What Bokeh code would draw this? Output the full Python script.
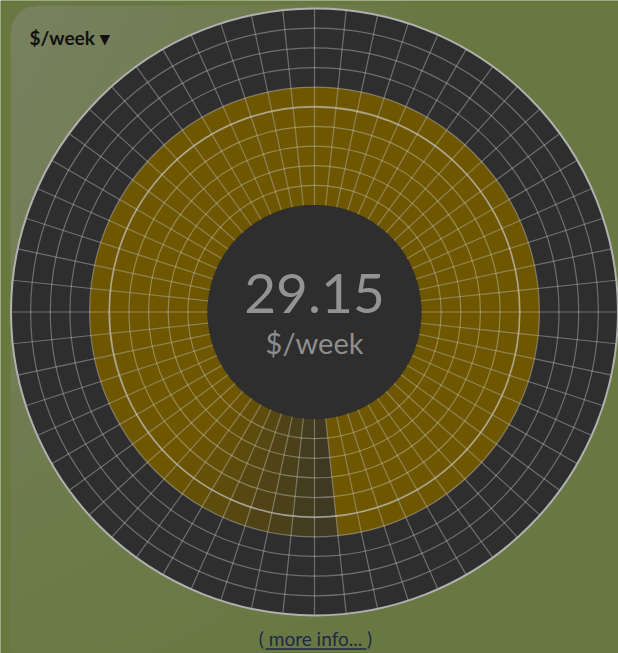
import numpy as np
from bokeh.plotting import figure
from bokeh.models import Range1d
from bokeh.core.properties import value
from bokeh.embed import file_html
from bokeh.resources import INLINE

# ---------------- data ----------------
unit_label = "$/week"
total_value = 29.15
# 60 angular segments (6 degrees each, clockwise from 12 o'clock), value in $/week
segment_values = [
    30.0, 30.0, 30.0, 30.0, 30.0, 30.0, 30.0, 30.0, 30.0, 30.0,
    30.0, 30.0, 30.0, 30.0, 30.0, 30.0, 30.0, 30.0, 30.0, 30.0,
    30.0, 30.0, 30.0, 30.0, 30.0, 30.0, 30.0, 30.0, 30.0, 30.0,
    30.0, 30.0, 30.0, 30.0, 30.0, 30.0, 30.0, 30.0, 30.0, 30.0,
    30.0, 30.0, 30.0, 30.0, 30.0, 30.0, 30.0, 30.0, 30.0, 30.0,
    30.0, 30.0, 30.0, 30.0, 30.0, 30.0, 30.0, 30.0, 30.0, 30.0,
]
# recency shading of each segment (oldest segments faded)
segment_alpha = [
    1.0, 1.0, 1.0, 1.0, 1.0, 1.0, 1.0, 1.0, 1.0, 1.0,
    1.0, 1.0, 1.0, 1.0, 1.0, 1.0, 1.0, 1.0, 1.0, 1.0,
    1.0, 1.0, 1.0, 1.0, 1.0, 1.0, 1.0, 1.0, 1.0, 0.26,
    0.34, 0.43, 0.53, 0.63, 0.74, 0.84, 0.93, 1.0, 1.0, 1.0,
    1.0, 1.0, 1.0, 1.0, 1.0, 1.0, 1.0, 1.0, 1.0, 1.0,
    1.0, 1.0, 1.0, 1.0, 1.0, 1.0, 1.0, 1.0, 1.0, 1.0,
]
ring_step_value = 5.0      # $/week per ring
ring_count = 10
target_value = 25.0        # highlighted ring
more_info_text = "( more info... )"

# ---------------- geometry / style ----------------
R_IN = 107.0
R_OUT = 303.5
step_px = (R_OUT - R_IN) / ring_count
n_seg = len(segment_values)
seg_deg = 360.0 / n_seg

def rad_of(v):
    return R_IN + (v / ring_step_value) * step_px

W, H = 618, 653
CX, CY = 314.0, 311.5  # centre in picture pixels
x0, x1 = 0 - CX, W - CX
y1, y0 = CY, CY - H

p = figure(width=W, height=H, x_range=Range1d(x0, x1), y_range=Range1d(y0, y1),
           output_backend="svg", toolbar_location=None, min_border=0)
p.axis.visible = False
p.grid.visible = False
p.outline_line_color = None
p.background_fill_color = "#687840"
p.border_fill_color = "#687840"

# background gradient (panel highlight in top-left)
yy, xx = np.mgrid[0:H, 0:W].astype(float)
X = xx
Y = yy
base = np.array([104, 120, 64], dtype=float)
panel = np.array([121, 129, 96], dtype=float)
w = np.clip(1 - (X - 10) / 430.0, 0, 1) * np.clip(1 - (Y - 5) / 760.0, 0, 1)
w = w ** 0.8
mask = (X >= 10) & (Y >= 5)
rc = 26.0
corner = (X < 10 + rc) & (Y < 5 + rc) & (((X - (10 + rc)) ** 2 + (Y - (5 + rc)) ** 2) > rc ** 2)
mask &= ~corner
w = np.where(mask, w, 0.0)
col = base[None, None, :] + w[..., None] * (panel - base)[None, None, :]
img = np.empty((H, W, 4), dtype=np.uint8)
img[..., :3] = np.clip(col, 0, 255).astype(np.uint8)
img[..., 3] = 255
img32 = np.flipud(img).copy().view(dtype=np.uint32).reshape(H, W)
p.image_rgba(image=[img32], x=x0, y=y0, dw=W, dh=H)

# dark disc
p.circle(x=0, y=0, radius=R_OUT, fill_color="#2e2e2e", line_color=None)

# value wedges
starts = [90 - seg_deg * (i + 1) for i in range(n_seg)]
ends = [90 - seg_deg * i for i in range(n_seg)]
outer = [rad_of(v) for v in segment_values]
p.annular_wedge(x=0, y=0, inner_radius=R_IN, outer_radius=outer,
                start_angle=starts, end_angle=ends, start_angle_units="deg",
                end_angle_units="deg", direction="anticlock",
                fill_color="#6f5700", fill_alpha=segment_alpha, line_color=None)

# radial grid lines
p.ray(x=0, y=0, length=R_OUT, angle=ends, angle_units="deg",
      line_color="#d8d8d8", line_alpha=0.38, line_width=1.2)

# concentric rings
ring_vals = [ring_step_value * k for k in range(1, ring_count)]
p.circle(x=0, y=0, radius=[rad_of(v) for v in ring_vals], fill_color=None,
         line_color="#d8d8d8", line_alpha=0.38, line_width=1.2)
p.circle(x=0, y=0, radius=rad_of(target_value), fill_color=None,
         line_color="#c8c8c8", line_alpha=0.5, line_width=1.8)

# outer border
p.circle(x=0, y=0, radius=R_OUT, fill_color=None, line_color="#b0b0b0", line_width=2)

# centre disc and texts (baseline offsets compensate the renderer's placement)
p.circle(x=0, y=0, radius=R_IN, fill_color="#2e2e2e", line_color=None)
p.text(x=[0], y=[CY - 293], text=[f"{total_value:.2f}"], text_font=value("Lato"),
       text_font_size="55px", text_color="#939393", text_align="center",
       text_baseline="alphabetic")
p.text(x=[0], y=[CY - 342], text=[unit_label], text_font=value("Lato"),
       text_font_size="29px", text_color="#8e8e8e", text_align="center",
       text_baseline="alphabetic")

# top-left selector label
p.text(x=[29 - CX], y=[CY - 37], text=[unit_label + " \u25BE"], text_font=value("Lato"),
       text_font_size="19px", text_font_style="bold", text_color="#111111",
       text_align="left", text_baseline="alphabetic")

# bottom link
p.text(x=[1], y=[CY - 638], text=[more_info_text], text_font=value("Lato"),
       text_font_size="19px", text_color="#1b2848", text_align="center",
       text_baseline="alphabetic")
p.segment(x0=[265 - CX], y0=[CY - 648.5], x1=[366 - CX], y1=[CY - 648.5],
          line_color="#1b2848", line_width=1.3)

open("out.html", "w").write(file_html(p, INLINE))
